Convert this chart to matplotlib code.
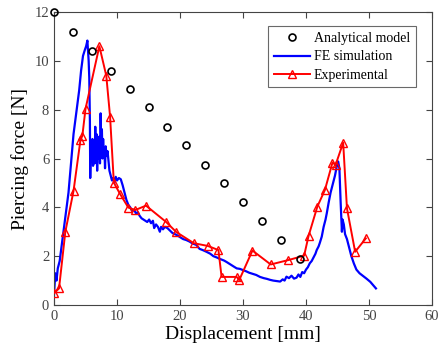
import matplotlib
matplotlib.use("Agg")
import matplotlib.pyplot as plt

plt.rcParams['font.family'] = ['Liberation Serif', 'DejaVu Serif']

# Analytical model
ana_x = [0, 3, 6, 9, 12, 15, 18, 21, 24, 27, 30, 33, 36, 39]
ana_y = [12.0, 11.2, 10.4, 9.6, 8.85, 8.1, 7.3, 6.55, 5.75, 5.0, 4.2, 3.43, 2.65, 1.87]

# Experimental
exp_x = [0.0, 0.8, 1.8, 3.1, 4.2, 4.5, 5.0, 7.2, 8.3, 8.9, 9.5, 10.5, 11.8, 12.9, 14.6,
         17.8, 19.4, 22.2, 24.4, 26.1, 26.6, 29.0, 29.4, 31.5, 34.4, 37.2, 39.7, 40.4,
         41.8, 43.0, 44.2, 44.7, 45.9, 46.5, 47.8, 49.5]
exp_y = [0.48, 0.68, 3.0, 4.67, 6.76, 6.93, 8.03, 10.6, 9.39, 7.72, 5.01, 4.54, 3.99, 3.89, 4.07,
         3.4, 2.99, 2.53, 2.42, 2.25, 1.15, 1.15, 1.02, 2.23, 1.66, 1.84, 2.02, 2.82,
         4.03, 4.71, 5.83, 5.74, 6.65, 3.96, 2.18, 2.73]

# FE simulation
fe_x = [0.0, 0.2, 0.4, 0.6, 0.9, 1.3, 1.8, 2.3, 2.7, 3.1, 3.5, 4.0, 4.3, 4.6, 4.9, 5.1, 5.3,
        5.5, 5.6, 5.7, 5.75, 5.85, 5.95, 6.1, 6.2, 6.3, 6.45, 6.55, 6.65, 6.75, 6.85, 6.95,
        7.05, 7.2, 7.3, 7.4, 7.5, 7.6, 7.7, 7.8, 7.9, 8.0, 8.1, 8.2, 8.35, 8.5, 8.65, 8.8,
        9.0, 9.2, 9.4, 9.6, 9.8, 10.0, 10.3, 10.6, 10.9, 11.2, 11.5, 11.8, 12.1, 12.4, 12.7,
        13.0, 13.3, 13.6, 13.9, 14.2, 14.5, 14.8, 15.1, 15.4, 15.7, 15.9, 16.2, 16.5, 16.8,
        17.0, 17.3, 17.6, 18.0, 18.4, 18.8, 19.2, 19.6, 20.0, 20.5, 21.0, 21.5, 22.0, 22.6,
        23.1, 23.6, 24.2, 24.8, 25.3, 25.8, 26.4, 27.0, 27.4, 28.0, 28.5, 29.0, 29.5, 30.0,
        30.5, 31.0, 31.6, 32.1, 32.7, 33.3, 33.8, 34.3, 34.8, 35.3, 35.9, 36.3, 36.6, 36.9,
        37.3, 37.7, 38.1, 38.5, 38.8, 39.1, 39.4, 39.7, 40.0, 40.3, 40.6, 40.9, 41.2, 41.5,
        41.7, 42.0, 42.2, 42.5, 42.8, 43.1, 43.3, 43.6, 43.9, 44.3, 44.6, 44.9, 45.1, 45.3,
        45.5, 45.7, 45.8, 46.0, 46.2, 46.5, 46.8, 47.2, 47.6, 48.0, 48.5, 49.0, 49.6, 50.2,
        50.7, 51.1]
fe_y = [0.4, 1.3, 1.0, 1.5, 1.8, 2.6, 3.6, 4.6, 5.8, 7.0, 7.8, 8.8, 9.6, 10.2, 10.45, 10.6, 10.83,
        10.0, 9.3, 7.5, 5.2, 6.6, 6.1, 6.8, 5.7, 6.5, 5.8, 7.3, 6.2, 7.0, 5.5, 6.6,
        6.0, 6.9, 5.8, 7.85, 6.5, 7.2, 6.0, 6.8, 6.2, 6.4, 5.6, 6.5, 6.1, 6.3, 5.9, 5.5,
        5.3, 5.1, 5.2, 5.0, 5.25, 5.1, 5.2, 5.15, 4.9, 4.6, 4.3, 4.1, 4.0, 3.85, 3.9,
        3.76, 3.8, 3.65, 3.55, 3.5, 3.45, 3.4, 3.5, 3.35, 3.45, 3.15, 3.3, 3.2, 3.0,
        3.2, 3.1, 3.2, 3.15, 3.05, 2.95, 2.9, 2.85, 2.78, 2.7, 2.66, 2.6, 2.52, 2.46,
        2.3, 2.25, 2.18, 2.1, 2.0, 1.95, 1.88, 1.82, 1.76, 1.66, 1.58, 1.5, 1.48, 1.43,
        1.38, 1.32, 1.27, 1.23, 1.15, 1.1, 1.07, 1.03, 1.0, 0.98, 0.96, 1.05, 1.0, 1.16,
        1.1, 1.2, 1.08, 1.12, 1.25, 1.15, 1.35, 1.3, 1.45, 1.55, 1.71, 1.8, 1.95, 2.1,
        2.25, 2.4, 2.55, 2.8, 3.2, 3.5, 3.76, 4.2, 4.6, 4.99, 5.3, 5.7, 5.88, 5.6,
        4.2, 3.0, 3.5, 3.3, 2.9, 2.7, 2.4, 2.0, 1.7, 1.45, 1.3, 1.2, 1.08, 0.95,
        0.8, 0.68]

x_ticks = [0, 10, 20, 30, 40, 50, 60]
y_ticks = [0, 2, 4, 6, 8, 10, 12]

fig = plt.figure(figsize=(4.38, 3.49), dpi=100)
ax = fig.add_axes([54/438, 44/349, 378/438, 293/349])

ax.plot(ana_x, ana_y, linestyle='none', marker='o', markersize=5, markerfacecolor='none',
        markeredgecolor='black', markeredgewidth=1.2, label='Analytical model', clip_on=False, zorder=4)
ax.plot(fe_x, fe_y, color='blue', linewidth=1.6, label='FE simulation', zorder=2)
ax.plot(exp_x, exp_y, color='red', linewidth=1.4, marker='^', markersize=6,
        markerfacecolor='none', markeredgecolor='red', markeredgewidth=1.0,
        label='Experimental', zorder=3)

ax.set_xlim(0, 60)
ax.set_ylim(0, 12)
ax.set_xticks(x_ticks)
ax.set_yticks(y_ticks)
ax.tick_params(direction='in', top=True, right=True, length=4, width=0.8,
               colors='#444444', labelsize=10.5, labelcolor='#444444')
for s in ax.spines.values():
    s.set_color('#444444')
    s.set_linewidth(0.8)

ax.set_xlabel('Displacement [mm]', fontsize=14, labelpad=2)
ax.set_ylabel('Piercing force [N]', fontsize=14, labelpad=4)

leg = ax.legend(loc='upper right', fontsize=10, frameon=True, fancybox=False,
                edgecolor='#444444', borderpad=0.4, handlelength=2.6, labelspacing=0.4,
                handletextpad=0.3, bbox_to_anchor=(0.975, 0.975))
leg.get_frame().set_linewidth(0.8)

fig.savefig('out.png', dpi=100)
